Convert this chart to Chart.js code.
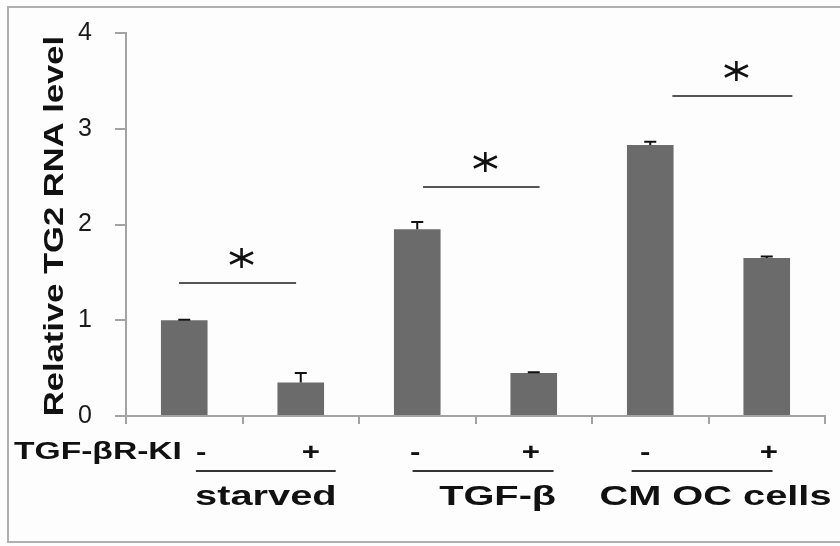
<!DOCTYPE html>
<html>
<head>
<meta charset="utf-8">
<title>Relative TG2 RNA level</title>
<script src="https://cdn.jsdelivr.net/npm/chart.js@4.4.1/dist/chart.umd.min.js"></script>
<style>
  html, body { margin: 0; padding: 0; background: #ffffff; }
  #wrap { width: 840px; height: 546px; }
</style>
</head>
<body>
<div id="wrap"><canvas id="tg2Chart" width="840" height="546"></canvas></div>
<script>
// TG2 RNA level bar chart

/* =========================================
   DATA
========================================= */
const groups = ["starved", "TGF-β", "CM OC cells"];
const inhibitor = ["-", "+", "-", "+", "-", "+"];
const categories = ["starved -", "starved +", "TGF-β -", "TGF-β +", "CM OC cells -", "CM OC cells +"];
const values = [1.0, 0.35, 1.95, 0.45, 2.83, 1.65];
const errors = [0.005, 0.1, 0.075, 0.008, 0.035, 0.015];
const yTicks = [0, 1, 2, 3, 4];

// significance brackets: pair of bars compared + level of the line
const sigPairs = [[0, 1], [2, 3], [4, 5]];
const sigLevels = [1.39, 2.39, 3.34];

const BAR_COLOR = "#6b6b6b";
const AXIS_COLOR = "#a3a3a3";

/* =========================================
   HELPER: stretched text (source figure text is wide)
========================================= */
function drawWide(ctx, text, x, y, font, sx, align) {
  ctx.save();
  ctx.translate(x, y);
  ctx.scale(sx, 1);
  ctx.font = font;
  ctx.textAlign = align || "left";
  ctx.textBaseline = "alphabetic";
  ctx.fillText(text, 0, 0);
  ctx.restore();
}

function drawAsterisk(ctx, cx, cy) {
  ctx.save();
  ctx.strokeStyle = "#111111";
  ctx.lineWidth = 2.6;
  ctx.lineCap = "butt";
  const arms = [[0, 10], [11.5, 5.5], [-11.5, 5.5]];
  arms.forEach(([dx, dy]) => {
    ctx.beginPath();
    ctx.moveTo(cx - dx, cy - dy);
    ctx.lineTo(cx + dx, cy + dy);
    ctx.stroke();
  });
  ctx.restore();
}

/* =========================================
   PLUGIN: frame / background
========================================= */
const framePlugin = {
  id: "frame",
  beforeDraw(chart) {
    const ctx = chart.ctx;
    ctx.save();
    ctx.fillStyle = "#fdfdfd";
    ctx.fillRect(0, 0, chart.width, chart.height);
    ctx.strokeStyle = "#b0b0b0";
    ctx.lineWidth = 2;
    ctx.strokeRect(8, 7, chart.width + 10, chart.height - 4 - 7);
    ctx.restore();
  }
};

/* =========================================
   PLUGIN: error bars, significance, labels
========================================= */
const annotatePlugin = {
  id: "annotate",
  afterDatasetsDraw(chart) {
    const ctx = chart.ctx;
    const x = chart.scales.x;
    const y = chart.scales.y;
    const meta = chart.getDatasetMeta(0);

    // error bars (upper only)
    ctx.save();
    ctx.strokeStyle = "#111111";
    ctx.lineWidth = 2;
    meta.data.forEach((bar, i) => {
      const top = y.getPixelForValue(values[i]);
      const cap = y.getPixelForValue(values[i] + errors[i]);
      ctx.beginPath();
      ctx.moveTo(bar.x, top);
      ctx.lineTo(bar.x, cap);
      ctx.moveTo(bar.x - 6, cap);
      ctx.lineTo(bar.x + 6, cap);
      ctx.stroke();
    });
    ctx.restore();

    // significance lines + asterisks
    const sigShift = [[-0.045, -0.04], [0.05, 0.05], [0.19, 0.22]];
    ctx.save();
    ctx.strokeStyle = "#555555";
    ctx.lineWidth = 2.2;
    sigPairs.forEach((pair, g) => {
      const x1 = x.getPixelForValue(pair[0] + sigShift[g][0]);
      const x2 = x.getPixelForValue(pair[1] + sigShift[g][1]);
      const ly = Math.round(y.getPixelForValue(sigLevels[g]));
      ctx.beginPath();
      ctx.moveTo(x1, ly);
      ctx.lineTo(x2, ly);
      ctx.stroke();
      drawAsterisk(ctx, (x1 + x2) / 2 + 4, ly - 25);
    });
    ctx.restore();

    // TGF-βR-KI row
    ctx.save();
    ctx.fillStyle = "#111111";
    drawWide(ctx, "TGF-βR-KI", 14, 459, "bold 24px 'Liberation Sans', Arial, sans-serif", 1.4, "left");
    const signShift = [17, 10, -2, -3, -5, 2];
    inhibitor.forEach((sign, i) => {
      const px = x.getPixelForValue(i) + signShift[i];
      drawWide(ctx, sign, px, 460, "bold 24px 'Liberation Sans', Arial, sans-serif", 1.3, "center");
    });

    // group underlines + names
    const underline = [[0.1, 1.3], [1.96, 3.17], [3.84, 5.05]];
    const nameCenter = [0.7, 2.69, 4.56];
    ctx.strokeStyle = "#333333";
    ctx.lineWidth = 2;
    groups.forEach((name, g) => {
      ctx.beginPath();
      ctx.moveTo(x.getPixelForValue(underline[g][0]), 471);
      ctx.lineTo(x.getPixelForValue(underline[g][1]), 471);
      ctx.stroke();
      const cx = x.getPixelForValue(nameCenter[g]);
      drawWide(ctx, name, cx, 505, "bold 28px 'Liberation Sans', Arial, sans-serif", 1.42, "center");
    });

    // y axis title
    ctx.save();
    ctx.translate(54, 226);
    ctx.rotate(-Math.PI / 2);
    drawWide(ctx, "Relative TG2 RNA level", 0, 9, "bold 27px 'Liberation Sans', Arial, sans-serif", 1.28, "center");
    ctx.restore();
    ctx.restore();
  }
};

/* =========================================
   CHART
========================================= */
new Chart(document.getElementById("tg2Chart").getContext("2d"), {
  type: "bar",
  data: {
    labels: categories,
    datasets: [
      {
        data: values,
        backgroundColor: BAR_COLOR,
        borderWidth: 0,
        categoryPercentage: 1.0,
        barPercentage: 0.4
      }
    ]
  },
  options: {
    responsive: false,
    animation: false,
    devicePixelRatio: 1,
    layout: { padding: { top: 33, right: 15, left: 0, bottom: 0 } },
    plugins: {
      legend: { display: false },
      tooltip: { enabled: false }
    },
    scales: {
      x: {
        offset: true,
        grid: {
          offset: true,
          drawOnChartArea: false,
          drawTicks: true,
          tickLength: 8,
          color: AXIS_COLOR,
          lineWidth: 2
        },
        border: { color: AXIS_COLOR, width: 2 },
        ticks: { display: false },
        afterFit(scale) { scale.height = 130; }
      },
      y: {
        min: 0,
        max: 4,
        afterBuildTicks(scale) { scale.ticks = yTicks.map(v => ({ value: v })); },
        grid: {
          drawOnChartArea: false,
          drawTicks: true,
          tickLength: 11,
          color: AXIS_COLOR,
          lineWidth: 2
        },
        border: { color: AXIS_COLOR, width: 2 },
        ticks: {
          color: "#1a1a1a",
          padding: 23,
          font: { family: "'Liberation Sans', Arial, sans-serif", size: 25 }
        },
        afterFit(scale) {
          scale.width = 126;
          // tick padding should not push the plot top down
          scale.paddingTop = 15;
          scale.paddingBottom = 15;
        }
      }
    }
  },
  plugins: [framePlugin, annotatePlugin]
});
</script>
</body>
</html>
